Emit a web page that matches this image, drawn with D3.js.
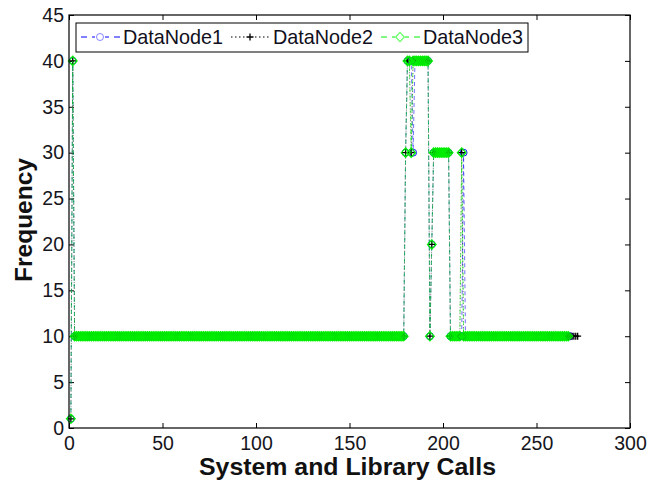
<!DOCTYPE html>
<html>
<head>
<meta charset="utf-8">
<script src="https://cdn.jsdelivr.net/npm/d3@7"></script>
<style>
  body { margin: 0; background: #fff; }
  svg { display: block; font-family: "Liberation Sans", Arial, Helvetica, sans-serif; }
</style>
</head>
<body>
<svg id="chart" width="648" height="483"></svg>
<script>
// Frequency of each system / library call, in call order (call index = position + 1)
const dataNode1 = [
  1, 40,
  10,10,10,10,10,10,10,10,10,10,10,10,10,10,10,10,10,10,10,10,
  10,10,10,10,10,10,10,10,10,10,10,10,10,10,10,10,10,10,10,10,
  10,10,10,10,10,10,10,10,10,10,10,10,10,10,10,10,10,10,10,10,
  10,10,10,10,10,10,10,10,10,10,10,10,10,10,10,10,10,10,10,10,
  10,10,10,10,10,10,10,10,10,10,10,10,10,10,10,10,10,10,10,10,
  10,10,10,10,10,10,10,10,10,10,10,10,10,10,10,10,10,10,10,10,
  10,10,10,10,10,10,10,10,10,10,10,10,10,10,10,10,10,10,10,10,
  10,10,10,10,10,10,10,10,10,10,10,10,10,10,10,10,10,10,10,10,
  10,10,10,10,10,10,10,10,10,10,10,10,10,10,10,10,10,
  30, 40, 40, 40, 30, 40, 40, 40, 40, 40, 40, 40, 40,
  10, 20, 30, 30, 30, 30, 30, 30, 30, 30, 30,
  10, 10, 10, 10, 10, 10, 10, 30,
  10,10,10,10,10,10,10,10,10,10,10,10,10,10,10,10,10,10,10,10,
  10,10,10,10,10,10,10,10,10,10,10,10,10,10,10,10,10,10,10,10,
  10,10,10,10,10,10,10,10,10,10,10,10,10,10,10,10,10
];

const dataNode2 = [
  1, 40,
  10,10,10,10,10,10,10,10,10,10,10,10,10,10,10,10,10,10,10,10,
  10,10,10,10,10,10,10,10,10,10,10,10,10,10,10,10,10,10,10,10,
  10,10,10,10,10,10,10,10,10,10,10,10,10,10,10,10,10,10,10,10,
  10,10,10,10,10,10,10,10,10,10,10,10,10,10,10,10,10,10,10,10,
  10,10,10,10,10,10,10,10,10,10,10,10,10,10,10,10,10,10,10,10,
  10,10,10,10,10,10,10,10,10,10,10,10,10,10,10,10,10,10,10,10,
  10,10,10,10,10,10,10,10,10,10,10,10,10,10,10,10,10,10,10,10,
  10,10,10,10,10,10,10,10,10,10,10,10,10,10,10,10,10,10,10,10,
  10,10,10,10,10,10,10,10,10,10,10,10,10,10,10,10,10,
  30, 40, 40, 30, 40, 40, 40, 40, 40, 40, 40, 40, 40,
  10, 20, 30, 30, 30, 30, 30, 30, 30, 30, 30,
  10, 10, 10, 10, 10, 10, 30,
  10,10,10,10,10,10,10,10,10,10,10,10,10,10,10,10,10,10,10,10,
  10,10,10,10,10,10,10,10,10,10,10,10,10,10,10,10,10,10,10,10,
  10,10,10,10,10,10,10,10,10,10,10,10,10,10,10,10,10,10,10,10,
  10,10
];

const dataNode3 = [
  1, 40,
  10,10,10,10,10,10,10,10,10,10,10,10,10,10,10,10,10,10,10,10,
  10,10,10,10,10,10,10,10,10,10,10,10,10,10,10,10,10,10,10,10,
  10,10,10,10,10,10,10,10,10,10,10,10,10,10,10,10,10,10,10,10,
  10,10,10,10,10,10,10,10,10,10,10,10,10,10,10,10,10,10,10,10,
  10,10,10,10,10,10,10,10,10,10,10,10,10,10,10,10,10,10,10,10,
  10,10,10,10,10,10,10,10,10,10,10,10,10,10,10,10,10,10,10,10,
  10,10,10,10,10,10,10,10,10,10,10,10,10,10,10,10,10,10,10,10,
  10,10,10,10,10,10,10,10,10,10,10,10,10,10,10,10,10,10,10,10,
  10,10,10,10,10,10,10,10,10,10,10,10,10,10,10,10,10,
  30, 40, 40, 30, 40, 40, 40, 40, 40, 40, 40, 40, 40,
  10, 20, 30, 30, 30, 30, 30, 30, 30, 30, 30,
  10, 10, 10, 10, 10, 10, 30,
  10,10,10,10,10,10,10,10,10,10,10,10,10,10,10,10,10,10,10,10,
  10,10,10,10,10,10,10,10,10,10,10,10,10,10,10,10,10,10,10,10,
  10,10,10,10,10,10,10,10,10,10,10,10,10,10,10,10,10
];

const seriesNames = ["DataNode1", "DataNode2", "DataNode3"];
const xTicks = [0, 50, 100, 150, 200, 250, 300];
const yTicks = [0, 5, 10, 15, 20, 25, 30, 35, 40, 45];
const xTitle = "System and Library Calls";
const yTitle = "Frequency";

const series = [
  { name: seriesNames[0], values: dataNode1, color: "#0000ff", dash: "4,3", marker: "circle" },
  { name: seriesNames[1], values: dataNode2, color: "#000000", dash: "1,2", marker: "plus" },
  { name: seriesNames[2], values: dataNode3, color: "#00ee00", dash: "4,3", marker: "diamond" }
];

const svg = d3.select("#chart");
const plot = { left: 69, right: 630, top: 15, bottom: 428 };

const x = d3.scaleLinear().domain([0, 300]).range([plot.left, plot.right]);
const y = d3.scaleLinear().domain([0, 45]).range([plot.bottom, plot.top]);

svg.append("rect").attr("width", 648).attr("height", 483).attr("fill", "#fff");

// Axes: ticks point inward on all four sides, labels only bottom/left
const tickFont = 19.5;
const styleAxis = g => {
  g.select(".domain").remove();
  g.selectAll(".tick line").attr("stroke", "#000").attr("stroke-width", 1);
  g.selectAll("text").attr("font-size", tickFont).attr("fill", "#151520")
    .attr("font-family", "Liberation Sans, Arial, sans-serif");
};

svg.append("g").attr("transform", `translate(0,${plot.bottom})`)
  .call(d3.axisBottom(x).tickValues(xTicks).tickSizeInner(-5).tickSizeOuter(0).tickPadding(8).tickFormat(d3.format("d")))
  .call(styleAxis);
svg.append("g").attr("transform", `translate(0,${plot.top})`)
  .call(d3.axisTop(x).tickValues(xTicks).tickSizeInner(-5).tickSizeOuter(0).tickFormat(""))
  .call(styleAxis);
svg.append("g").attr("transform", `translate(${plot.left},0)`)
  .call(d3.axisLeft(y).tickValues(yTicks).tickSizeInner(-5).tickSizeOuter(0).tickPadding(5).tickFormat(d3.format("d")))
  .call(styleAxis);
svg.append("g").attr("transform", `translate(${plot.right},0)`)
  .call(d3.axisRight(y).tickValues(yTicks).tickSizeInner(-5).tickSizeOuter(0).tickFormat(""))
  .call(styleAxis);

// Series: line first, then markers, in legend order
const line = d3.line().x((d, i) => x(i + 1)).y(d => y(d));

function drawMarker(sel, kind, color) {
  if (kind === "circle") {
    sel.append("circle").attr("r", 3.5).attr("fill", "none").attr("stroke", color).attr("stroke-width", 0.9);
  } else if (kind === "plus") {
    sel.append("path").attr("d", "M-3.5,0H3.5M0,-3.5V3.5").attr("stroke", color).attr("stroke-width", 1.3);
  } else {
    sel.append("path").attr("d", "M0,-4.6L4.3,0L0,4.6L-4.3,0Z").attr("fill", "none").attr("stroke", color).attr("stroke-width", 1.3);
  }
}

const dataLayer = svg.append("g");
series.forEach(s => {
  const g = dataLayer.append("g");
  g.append("path").datum(s.values).attr("d", line)
    .attr("fill", "none").attr("stroke", s.color).attr("stroke-width", 0.7)
    .attr("stroke-dasharray", s.dash).attr("opacity", 0.8);
  const m = g.selectAll("g.m").data(s.values).join("g").attr("class", "m")
    .attr("transform", (d, i) => `translate(${x(i + 1)},${y(d)})`);
  drawMarker(m, s.marker, s.color);
});

// Plot frame
svg.append("rect")
  .attr("x", plot.left).attr("y", plot.top)
  .attr("width", plot.right - plot.left).attr("height", plot.bottom - plot.top)
  .attr("fill", "none").attr("stroke", "#000").attr("stroke-width", 1.2);

// Legend
const legend = svg.append("g");
legend.append("rect").attr("x", 76).attr("y", 23).attr("width", 452).attr("height", 29)
  .attr("fill", "#fff").attr("stroke", "#000").attr("stroke-width", 1);
series.forEach((s, i) => {
  const lx = 81 + i * 150, ly = 37;
  const g = legend.append("g");
  g.append("line").attr("x1", lx).attr("x2", lx + 40).attr("y1", ly).attr("y2", ly)
    .attr("stroke", s.color).attr("stroke-width", 1)
    .attr("stroke-dasharray", s.marker === "plus" ? "1.5,2.5" : "6,5");
  const m = g.append("g").attr("transform", `translate(${lx + 19},${ly})`);
  m.append("rect").attr("x", -5).attr("y", -5).attr("width", 10).attr("height", 10).attr("fill", "#fff");
  drawMarker(m, s.marker, s.marker === "diamond" ? "#66ff66" : s.marker === "circle" ? "#7777ff" : s.color);
  g.append("text").attr("x", lx + 42).attr("y", 44).attr("font-size", 19.8).attr("fill", "#101020")
    .text(s.name);
});

// Axis titles
svg.append("text").attr("x", (plot.left + plot.right) / 2 - 2).attr("y", 475)
  .attr("text-anchor", "middle").attr("font-size", 23).attr("font-weight", "bold")
  .attr("textLength", 297).attr("lengthAdjust", "spacingAndGlyphs").attr("fill", "#111")
  .text(xTitle);
svg.append("text").attr("transform", "translate(32,220) rotate(-90)")
  .attr("text-anchor", "middle").attr("font-size", 23).attr("font-weight", "bold")
  .attr("textLength", 124).attr("lengthAdjust", "spacingAndGlyphs").attr("fill", "#111")
  .text(yTitle);
</script>
</body>
</html>
